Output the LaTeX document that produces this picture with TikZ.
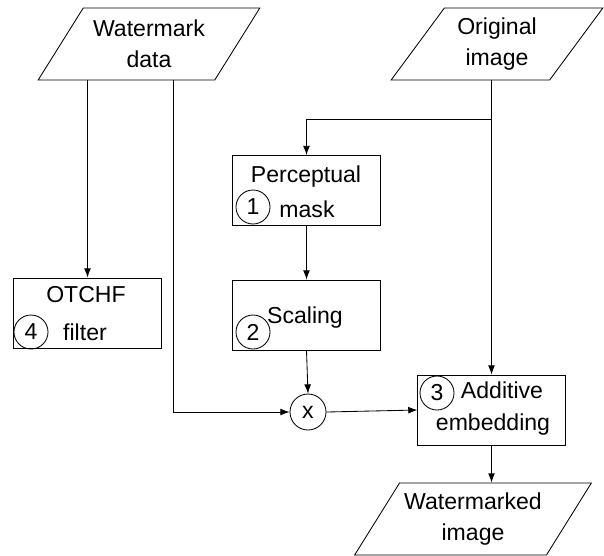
\documentclass[tikz,border=0pt]{standalone}
\usepackage{fontspec}
\setmainfont{Liberation Sans}
\usetikzlibrary{arrows.meta,shapes.geometric,calc}

\begin{document}
\begin{tikzpicture}[x=0.025cm,y=-0.025cm]
    \tikzset{
      iobox/.style={draw,trapezium,trapezium left angle=54,trapezium right angle=126,
                    trapezium stretches=true,minimum height=1.8cm,align=center,
                    font=\fontsize{16.4}{22}\selectfont,line width=0.6pt},
      blockbox/.style={draw,minimum width=3.68cm,minimum height=1.75cm,line width=0.6pt},
      txt/.style={anchor=base,inner sep=0pt,font=\fontsize{16.4}{19}\selectfont},
      numc/.style={draw,circle,minimum size=0.85cm,inner sep=0pt,
                   font=\fontsize{16.4}{19}\selectfont,line width=0.6pt},
      arr/.style={-{Latex[length=2.3mm,width=1.7mm]},line width=0.6pt}
    }
    \useasboundingbox (0,0) rectangle (604,555);

    % inputs and output
    \node[iobox,minimum width=5.55cm] (wm) at (149,44) {Watermark\\data};
    \node[iobox,minimum width=5.3cm] (orig) at (497,44) {Original\\image};
    \node[iobox,minimum width=5.5cm] (out) at (473,519) {Watermarked\\image};

    % processing blocks
    \node[blockbox] (percep) at (306.5,190.5) {};
    \node[txt] (percepA) at (306,182) {Perceptual};
    \node[txt] (percepB) at (307,217) {mask};
    \node[numc] (n1) at (253,207) {1};

    \node[blockbox] (scale) at (306.5,315) {};
    \node[txt] (scaleA) at (305,323) {Scaling};
    \node[numc] (n2) at (253,332) {2};

    \node[blockbox] (otchf) at (87.5,313) {};
    \node[txt] (otchfA) at (86,302) {OTCHF};
    \node[txt] (otchfB) at (85,340) {filter};
    \node[numc] (n4) at (31,332) {4};

    \node[blockbox] (add) at (491.5,410) {};
    \node[txt] (addA) at (502,398) {Additive};
    \node[txt] (addB) at (493,430) {embedding};
    \node[numc] (n3) at (437,393) {3};

    \node[draw,circle,minimum size=0.9cm,inner sep=0pt,line width=0.6pt,
          font=\fontsize{16.4}{19}\selectfont] (mult) at (308,412) {x};

    % connectors
    \coordinate (split) at ($(add.north |- orig.south)+(0,39)$);
    \draw[arr] (otchf.north |- wm.south) -- (otchf.north);
    \draw[arr] ($(wm.south)+(24,0)$) |- (mult.west);
    \draw[arr] (add.north |- orig.south) -- (add.north);
    \draw[arr] (split) -| (percep.north);
    \draw[arr] (percep.south) -- (scale.north);
    \draw[arr] (scale.south) -- (mult.north);
    \draw[arr] (mult.east) -- (add.west);
    \draw[arr] (add.south) -- (add.south |- out.north);
\end{tikzpicture}
\end{document}
